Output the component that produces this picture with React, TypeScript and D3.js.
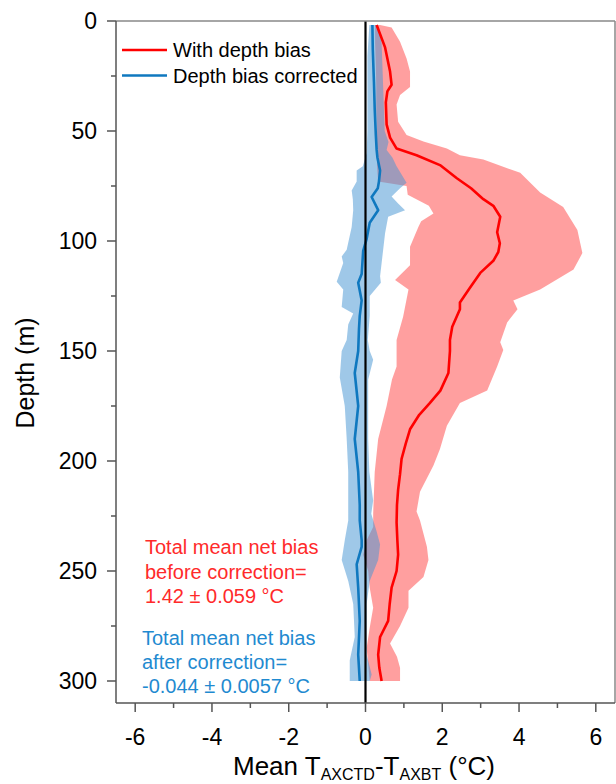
import React from "react";
import * as d3 from "d3";

// [depth (m), temperature difference (°C)]
const redMean: [number, number][] = [
  [1.8, 0.29], [12, 0.51], [23, 0.64], [29, 0.68], [32, 0.57], [37, 0.53], [47, 0.55], [53, 0.64],
  [58, 0.81], [61, 1.33], [65.5, 1.94], [71.5, 2.38], [76, 2.75], [81, 3.07], [84, 3.33], [89, 3.51],
  [96, 3.43], [101, 3.5], [105, 3.46], [109, 3.33], [114.5, 2.99], [121, 2.73], [128, 2.46], [131, 2.46],
  [139, 2.26], [145, 2.2], [150, 2.2], [160, 2.16], [168, 1.95], [173.6, 1.68], [179, 1.4], [185.6, 1.16],
  [192, 1.05], [199, 0.94], [206, 0.9], [213, 0.85], [220, 0.82], [228, 0.81], [236, 0.83], [242.6, 0.85],
  [250, 0.81], [257.6, 0.68], [265, 0.63], [272.7, 0.59], [280, 0.38], [288, 0.33], [294, 0.36], [300, 0.42],
];
const redHigh: [number, number][] = [
  [1.8, 0.38], [3, 0.68], [9.4, 0.9], [17, 1.07], [23, 1.16], [30, 1.16], [33.6, 0.9], [38, 0.81],
  [45.8, 0.85], [51.8, 1.07], [54.8, 1.51], [57.9, 2.12], [61, 2.46], [63, 3.07], [69, 4.03], [78, 4.55],
  [84.5, 5.15], [95, 5.52], [105.5, 5.65], [113, 5.42], [122, 4.55], [127, 3.85], [131, 3.96], [137, 3.69],
  [146, 3.51], [149.5, 3.59], [157, 3.43], [168, 3.17], [173.6, 2.46], [184, 2.12], [194.5, 1.94], [202, 1.77],
  [214, 1.42], [223, 1.33], [227, 1.42], [239, 1.6], [245, 1.64], [252.7, 1.51], [259, 1.12], [266.7, 1.12],
  [275, 0.9], [283, 0.64], [289, 0.82], [294, 0.9], [300, 0.9],
];
const redLow: [number, number][] = [
  [1.8, 0.25], [10, 0.25], [20, 0.27], [30, 0.28], [40, 0.28], [50, 0.3], [58, 0.3], [66, 0.3],
  [73, 0.33], [75, 1.07], [79, 1.1], [84, 1.65], [87.5, 1.77], [91, 1.45], [93.5, 1.38], [102.6, 1.16],
  [111, 1.16], [117.7, 0.77], [122, 1.12], [134.4, 0.98], [145, 0.81], [157, 0.81], [163, 0.69], [175, 0.55],
  [190, 0.33], [205, 0.24], [224, 0.2], [230, 0.2], [236, 0.03], [242.6, -0.06], [250, 0.07], [257.6, 0.11],
  [266.7, 0.2], [275.8, 0.11], [285, 0.03], [300, 0.11],
];
const blueMean: [number, number][] = [
  [1.8, 0.18], [13, 0.19], [27.6, 0.22], [40, 0.24], [52, 0.27], [58.6, 0.29], [62, 0.31], [68, 0.38],
  [73, 0.35], [76, 0.32], [80, 0.16], [86, 0.33], [91.7, 0.11], [99, 0.03], [104.5, -0.06], [115, -0.1],
  [119, -0.19], [127, -0.1], [134, -0.15], [140, -0.17], [150, -0.19], [160, -0.28], [175, -0.19], [190, -0.28],
  [205, -0.19], [220, -0.15], [227, -0.15], [236, -0.1], [239, -0.1], [247, -0.23], [257.6, -0.19], [272.7, -0.15],
  [288, -0.19], [300, -0.15],
];
const blueLow: [number, number][] = [
  [1.8, 0.1], [16, 0.05], [50, 0.05], [60, 0.03], [66, -0.07], [68, -0.23], [73, -0.23], [77, -0.36],
  [81, -0.33], [86, -0.32], [93.6, -0.36], [104, -0.49], [107, -0.62], [110, -0.58], [118.5, -0.75], [122, -0.58],
  [130, -0.62], [133, -0.32], [138, -0.45], [145, -0.49], [150, -0.62], [162, -0.67], [175, -0.54], [190, -0.49],
  [205, -0.45], [220, -0.45], [227, -0.45], [236, -0.54], [245, -0.62], [254.5, -0.45], [265, -0.32], [280, -0.28],
  [290.6, -0.41], [300, -0.41],
];
const blueHigh: [number, number][] = [
  [1.8, 0.32], [10, 0.42], [30, 0.46], [50, 0.5], [55, 0.6], [58.6, 0.55], [62, 0.7], [66, 0.81],
  [73.5, 1.07], [76, 0.9], [79.8, 0.68], [83, 0.85], [86, 1.03], [89, 0.59], [96.5, 0.51], [104, 0.46],
  [116, 0.38], [119, 0.4], [125, 0.11], [134, 0.11], [145, 0.06], [150, 0.11], [154, 0.2], [163, 0.07],
  [190, 0.07], [205, 0.1], [218, 0.2], [224, 0.15], [232, 0.29], [238, 0.38], [245, 0.33], [254.5, 0.11],
  [265, 0.03], [288, 0.03], [297, 0.16], [300, 0.11],
];

const xMajorTicks = [-6, -4, -2, 0, 2, 4, 6];
const xMinorTicks = [-5, -3, -1, 1, 3, 5];
const yMajorTicks = [0, 50, 100, 150, 200, 250, 300];
const yMinorTicks = [25, 75, 125, 175, 225, 275];

const legendLabels = ["With depth bias", "Depth bias corrected"];
const noteBefore = ["Total mean net bias", "before correction=", "1.42 ± 0.059 °C"];
const noteAfter = ["Total mean net bias", "after correction=", "-0.044 ± 0.0057 °C"];

const W = 616;
const H = 784;
const left = 116;
const right = 615;
const top = 21;
const bottom = 703;

const RED = "#ff0000";
const BLUE = "#0f78bf";
const FONT = "'Liberation Sans', Arial, sans-serif";

export default function App() {
  const x = d3.scaleLinear().domain([-6.5, 6.5]).range([left, right]);
  const y = d3.scaleLinear().domain([0, 310]).range([top, bottom]);

  const line = d3
    .line<[number, number]>()
    .x((d) => x(d[1]))
    .y((d) => y(d[0]));

  const band = (hi: [number, number][], lo: [number, number][]) =>
    (line([...hi, ...lo.slice().reverse()]) || "") + "Z";

  const axisColor = "#555";

  return (
    <svg
      width={W}
      height={H}
      style={{ position: "absolute", left: 0, top: 0, background: "#fff" }}
      fontFamily={FONT}
    >
      <rect x={0} y={0} width={W} height={H} fill="#fff" />
      {/* bands */}
      <path d={band(redHigh, redLow)} fill="rgb(255,100,100)" fillOpacity={0.62} stroke="none" />
      <path d={band(blueHigh, blueLow)} fill="rgb(70,150,210)" fillOpacity={0.52} stroke="none" />
      {/* mean lines */}
      <path d={line(redMean) || ""} fill="none" stroke={RED} strokeWidth={2.6} strokeLinejoin="round" />
      <path d={line(blueMean) || ""} fill="none" stroke={BLUE} strokeWidth={2.6} strokeLinejoin="round" />
      {/* zero line */}
      <line x1={x(0)} x2={x(0)} y1={top} y2={bottom} stroke="#000" strokeWidth={2.2} />

      {/* frame */}
      <line x1={left} x2={right} y1={top} y2={top} stroke="#888" strokeWidth={1.5} />
      <line x1={right} x2={right} y1={top} y2={bottom} stroke="#888" strokeWidth={1.5} />
      <line x1={left} x2={left} y1={top} y2={bottom} stroke={axisColor} strokeWidth={1.5} />
      <line x1={left} x2={right} y1={bottom} y2={bottom} stroke={axisColor} strokeWidth={1.5} />

      {/* y ticks */}
      {yMajorTicks.map((t) => (
        <g key={"ym" + t}>
          <line x1={left - 9} x2={left} y1={y(t)} y2={y(t)} stroke={axisColor} strokeWidth={1.5} />
          <text x={left - 19} y={y(t)} textAnchor="end" dominantBaseline="central" fontSize={23} fill="#000">
            {t}
          </text>
        </g>
      ))}
      {yMinorTicks.map((t) => (
        <line key={"yn" + t} x1={left - 5} x2={left} y1={y(t)} y2={y(t)} stroke={axisColor} strokeWidth={1.5} />
      ))}
      {/* x ticks */}
      {xMajorTicks.map((t) => (
        <g key={"xm" + t}>
          <line x1={x(t)} x2={x(t)} y1={bottom} y2={bottom + 9} stroke={axisColor} strokeWidth={1.5} />
          <text x={x(t)} y={bottom + 42} textAnchor="middle" fontSize={23} fill="#000">
            {t}
          </text>
        </g>
      ))}
      {xMinorTicks.map((t) => (
        <line key={"xn" + t} x1={x(t)} x2={x(t)} y1={bottom} y2={bottom + 5} stroke={axisColor} strokeWidth={1.5} />
      ))}

      {/* axis titles */}
      <text
        transform={`translate(34, ${y(160)}) rotate(-90)`}
        textAnchor="middle"
        fontSize={25}
        fill="#000"
      >
        Depth (m)
      </text>
      <text x={233} y={775} fontSize={26} fill="#000">
        Mean T
        <tspan fontSize={16} dy={5}>AXCTD</tspan>
        <tspan dy={-5}>-T</tspan>
        <tspan fontSize={16} dy={5}>AXBT</tspan>
        <tspan dy={-5}> (°C)</tspan>
      </text>

      {/* legend */}
      {legendLabels.map((lab, i) => (
        <g key={lab}>
          <line x1={122} x2={167} y1={50 + i * 25.5} y2={50 + i * 25.5} stroke={i === 0 ? RED : BLUE} strokeWidth={2.6} />
          <text x={173} y={50 + i * 25.5} dominantBaseline="central" fontSize={20} fill="#000">
            {lab}
          </text>
        </g>
      ))}

      {/* annotations */}
      {noteBefore.map((t, i) => (
        <text key={"nb" + i} x={145} y={547 + i * 24.5} dominantBaseline="central" fontSize={20} fill="#ff2a2a">
          {t}
        </text>
      ))}
      {noteAfter.map((t, i) => (
        <text key={"na" + i} x={142} y={638 + i * 24} dominantBaseline="central" fontSize={20} fill="#1f8ad0">
          {t}
        </text>
      ))}
    </svg>
  );
}
